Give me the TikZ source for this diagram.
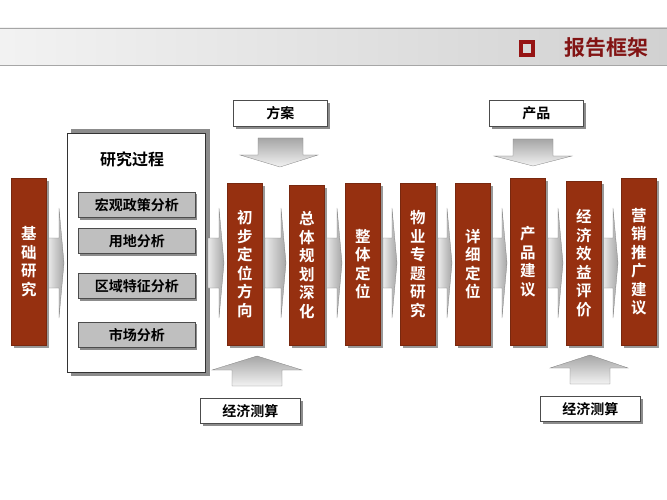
\documentclass[tikz,border=0pt]{standalone}
\usepackage{fontspec}
\setmainfont{Noto Sans CJK SC}
\newfontfamily\cjkb{Noto Sans CJK SC Bold}
\definecolor{rbfill}{RGB}{150,48,16}
\definecolor{rbdraw}{RGB}{120,40,15}
\definecolor{titlered}{RGB}{130,20,20}
\definecolor{sqred}{RGB}{150,20,20}
\begin{document}
\begin{tikzpicture}[x=1pt,y=-1pt,
  redbox/.style={fill=rbfill, draw=rbdraw, line width=0.6pt, text=white, font=\cjkb\fontsize{15.5}{18.5}\selectfont, align=center, inner sep=0pt},
  graybox/.style={fill=black!25, draw=black!70, line width=0.5pt, font=\cjkb\fontsize{14}{16}\selectfont},
  labbox/.style={fill=white, draw=black!70, line width=0.5pt, font=\cjkb\fontsize{14}{16}\selectfont},
  shad/.style={fill=black!45},
  arrowfill/.style={left color=black!8, right color=black!35, draw=black!50, line width=0.3pt},
  varrowfill/.style={top color=black!35, bottom color=black!5, draw=black!50, line width=0.3pt}]
\useasboundingbox (0,0) rectangle (667,500);
% header
\fill[left color=black!5, right color=black!18] (0,28) rectangle (667,65);
\draw[black!35] (0,28) -- (667,28) (0,65) -- (667,65);
\node[font=\cjkb\fontsize{21}{24}\selectfont, text=titlered] (title) at (606,48) {报告框架};
\draw[sqred, line width=4pt] (521,42) rectangle (533,55);
% process box
\fill[shad] (71,129) rectangle (210,376);
\draw[fill=white, draw=black!80, line width=0.8pt] (67,133) rectangle (205,372);
\node[font=\cjkb\fontsize{16}{18}\selectfont] (proc) at (132,159) {研究过程};
\foreach \y/\t/\n in {192/宏观政策分析/g1, 228/用地分析/g2, 273/区域特征分析/g3, 322/市场分析/g4}{
  \fill[shad] (80,\y+2) rectangle (197,\y+28);
  \node[graybox, minimum width=117pt, minimum height=25pt, anchor=north west] (\n) at (78,\y) {\t};
}
% horizontal arrows
\foreach \a/\b/\yc in {48/64/263, 208/224/263, 265/286/263, 326/342/263, 383/397/263, 438/452/263, 493/507/263, 548/563/263, 603/618/263}{
  \path[arrowfill] (\a,\yc-25) -- (\b-5,\yc-25) -- (\b-5,\yc-55) -- (\b,\yc) -- (\b-5,\yc+55) -- (\b-5,\yc+25) -- (\a,\yc+25) -- cycle;
}
% red boxes
\foreach \x/\yt/\t/\n in {11/178/基\\础\\研\\究/r0, 227/183/初\\步\\定\\位\\方\\向/r1, 289/185/总\\体\\规\\划\\深\\化/r2, 345/183/整\\体\\定\\位/r3, 400/183/物\\业\\专\\题\\研\\究/r4, 455/183/详\\细\\定\\位/r5, 510/178/产\\品\\建\\议/r6, 566/181/经\\济\\效\\益\\评\\价/r7, 621/178/营\\销\\推\\广\\建\\议/r8}{
  \fill[black!40] (\x+3,\yt+3) rectangle (\x+38,348);
  \pgfmathsetmacro\hh{345-\yt}
  \node[redbox, minimum width=35pt, minimum height=\hh pt, anchor=north west] (\n) at (\x,\yt) {\t};
}
% top labels and down arrows
\fill[shad] (236,103) rectangle (330,129);
\node[labbox, minimum width=94pt, minimum height=26pt, anchor=north west] (fa) at (233,100) {方案};
\path[varrowfill] (258,138) -- (303,138) -- (303,155) -- (318,155) -- (280,167) -- (240,155) -- (258,155) -- cycle;
\fill[shad] (492,103) rectangle (586,129);
\node[labbox, minimum width=94pt, minimum height=26pt, anchor=north west] (cp) at (489,100) {产品};
\path[varrowfill] (513,139) -- (553,139) -- (553,156) -- (572,156) -- (533,166) -- (494,156) -- (513,156) -- cycle;
% bottom labels and up arrows
\path[varrowfill] (232,386) -- (282,386) -- (282,370) -- (302,370) -- (257,356) -- (212,370) -- (232,370) -- cycle;
\fill[shad] (203,401) rectangle (303,426);
\node[labbox, minimum width=100pt, minimum height=25pt, anchor=north west] (js1) at (200,398) {经济测算};
\path[varrowfill] (570,384) -- (610,384) -- (610,368) -- (628,368) -- (590,355) -- (550,368) -- (570,368) -- cycle;
\fill[shad] (543,399) rectangle (643,424);
\node[labbox, minimum width=100pt, minimum height=25pt, anchor=north west] (js2) at (540,396) {经济测算};
\end{tikzpicture}
\end{document}
